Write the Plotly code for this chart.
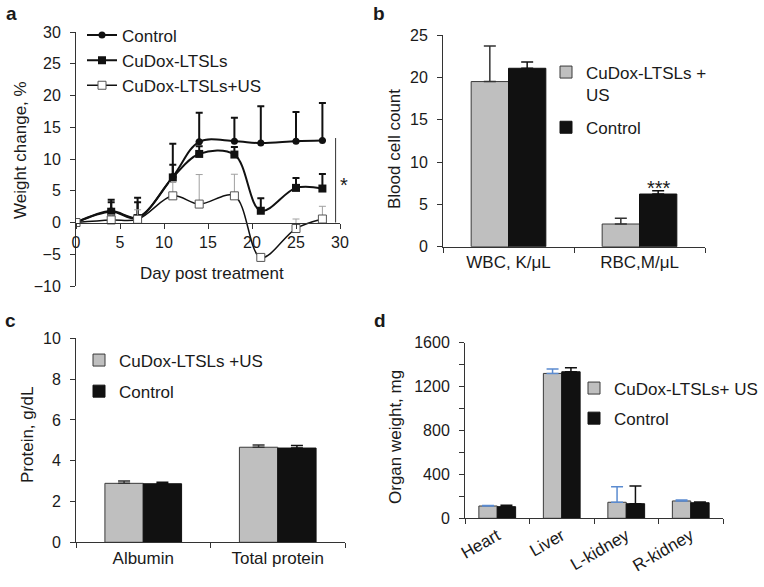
import plotly.graph_objects as go

W, H = 764, 587
FONT = "Liberation Sans, Arial, Helvetica, sans-serif"
TXT = "#1a1a1a"
GRAY = "#bfbfbf"
BLACK = "#111111"
AXC = "#333333"

# ---------------- Panel a: weight change ----------------
days = [0, 4, 7, 11, 14, 18, 21, 25, 28]
control_wt = [0, 1.8, 0.8, 7.2, 12.7, 12.8, 12.5, 12.8, 12.9]
control_err = [0, 1.8, 3.1, 5.2, 4.6, 3.7, 5.8, 4.6, 5.9]
ltsl_wt = [0, 1.7, 0.7, 7.1, 10.8, 10.7, 1.85, 5.45, 5.35]
ltsl_err = [0, 1.5, 2.5, 2.0, 1.2, 1.2, 1.95, 1.55, 2.3]
us_wt = [0, 0.4, 0.5, 4.2, 2.9, 4.2, -5.5, -0.95, 0.55]
us_err = [0, 0.8, 1.5, 2.1, 4.65, 3.4, 0, 1.5, 2.0]
sig_x = 29.5
sig_y = [0, 13.3]

# ---------------- Panel b: blood cells ----------------
blood_cats = ["WBC, K/μL", "RBC,M/μL"]
blood_us = [19.5, 2.68]
blood_us_err = [4.2, 0.67]
blood_ctrl = [21.07, 6.22]
blood_ctrl_err = [0.73, 0.38]

# ---------------- Panel c: protein ----------------
protein_cats = ["Albumin", "Total protein"]
protein_us = [2.89, 4.66]
protein_us_err = [0.11, 0.11]
protein_ctrl = [2.87, 4.62]
protein_ctrl_err = [0.07, 0.13]

# ---------------- Panel d: organ weight ----------------
organ_cats = ["Heart", "Liver", "L-kidney", "R-kidney"]
organ_us = [112, 1320, 146, 158]
organ_us_err = [4, 40, 142, 9]
organ_ctrl = [106, 1335, 133, 142]
organ_ctrl_err = [12, 37, 161, 7]


def px(x):
    return x / W


def py(y):
    return 1 - y / H


def plus_err(vals, color, thick=1.5, width=4):
    return dict(type="data", array=vals, arrayminus=[0] * len(vals),
                symmetric=False, color=color, thickness=thick, width=width)


fig = go.Figure()

# ---- panel a traces
fig.add_trace(go.Scatter(
    x=days, y=control_wt, name="Control", mode="lines+markers",
    line=dict(color=BLACK, width=2, shape="spline", smoothing=1),
    marker=dict(symbol="circle", size=7, color=BLACK),
    error_y=plus_err(control_err, BLACK, 2, 3.5),
    xaxis="x", yaxis="y", legend="legend"))
fig.add_trace(go.Scatter(
    x=days, y=ltsl_wt, name="CuDox-LTSLs", mode="lines+markers",
    line=dict(color=BLACK, width=2, shape="spline", smoothing=1),
    marker=dict(symbol="square", size=8, color=BLACK),
    error_y=plus_err(ltsl_err, BLACK, 2, 3.5),
    xaxis="x", yaxis="y", legend="legend"))
fig.add_trace(go.Scatter(
    x=days, y=us_wt, name="CuDox-LTSLs+US", mode="lines+markers",
    line=dict(color=BLACK, width=1.5, shape="spline", smoothing=1),
    marker=dict(symbol="square", size=8, color="white",
                line=dict(color="#555555", width=1)),
    error_y=plus_err(us_err, "#a0a0a0", 1, 3.5),
    xaxis="x", yaxis="y", legend="legend"))


def bar_pair(cats, us, us_err, ctrl, ctrl_err, xa, ya, leg, us_name, us_err_col):
    fig.add_trace(go.Bar(
        x=cats, y=us, name=us_name, marker=dict(color=GRAY, line=dict(color="#3a3a3a", width=1)),
        error_y=plus_err(us_err, us_err_col, 1.5, 6), xaxis=xa, yaxis=ya,
        legend=leg, legendgroup=leg + "us"))
    fig.add_trace(go.Bar(
        x=cats, y=ctrl, name="Control", marker=dict(color=BLACK, line=dict(color=BLACK, width=1)),
        error_y=plus_err(ctrl_err, BLACK, 1.5, 6), xaxis=xa, yaxis=ya,
        legend=leg, legendgroup=leg + "ctrl"))


bar_pair(blood_cats, blood_us, blood_us_err, blood_ctrl, blood_ctrl_err,
         "x2", "y2", "legend2", "CuDox-LTSLs +<br>US", "#333333")
bar_pair(protein_cats, protein_us, protein_us_err, protein_ctrl, protein_ctrl_err,
         "x3", "y3", "legend3", "CuDox-LTSLs +US", "#333333")
bar_pair(organ_cats, organ_us, organ_us_err, organ_ctrl, organ_ctrl_err,
         "x4", "y4", "legend4", "CuDox-LTSLs+ US", "#5b8bd0")

tickfont = dict(family=FONT, size=16, color=TXT)
catfont = dict(family=FONT, size=17, color=TXT)
common_y = dict(showline=True, linecolor=AXC, linewidth=1, ticks="outside",
                ticklen=5, tickcolor=AXC, showgrid=False, zeroline=False,
                tickfont=tickfont, ticklabelstandoff=6)
common_xcat = dict(showline=True, linecolor=AXC, linewidth=1, ticks="outside",
                   ticklen=5, tickcolor=AXC, showgrid=False, zeroline=False,
                   tickfont=catfont, tickson="boundaries", type="category")

ya_dom = [py(286), py(32)]
fig.update_layout(
    xaxis=dict(domain=[px(76), px(340)], range=[0, 30], dtick=5, showline=True,
               linecolor=AXC, linewidth=1, ticks="outside", ticklen=5, tickcolor=AXC,
               showgrid=False, zeroline=False, tickfont=tickfont,
               anchor="free", position=ya_dom[0] + 0.25 * (ya_dom[1] - ya_dom[0])),
    yaxis=dict(domain=ya_dom, range=[-10, 30], dtick=5, anchor="x", **common_y),
    xaxis2=dict(domain=[px(443), px(705)], range=[-0.5, 1.5], anchor="y2", **common_xcat),
    yaxis2=dict(domain=[py(246.7), py(35)], range=[0, 25], dtick=5, anchor="x2", **common_y),
    xaxis3=dict(domain=[px(76), px(345)], range=[-0.5, 1.5], anchor="y3", **common_xcat),
    yaxis3=dict(domain=[py(542.3), py(338.3)], range=[0, 10], dtick=2, anchor="x3", **common_y),
    xaxis4=dict(domain=[px(465), px(723)], range=[-0.5, 3.5], anchor="y4", tickangle=-30,
                **common_xcat),
    yaxis4=dict(domain=[py(518.3), py(342.7)], range=[0, 1600], dtick=400, anchor="x4",
                minor=dict(dtick=200, ticks="outside", ticklen=5, tickcolor=AXC), **common_y),
)

leg_common = dict(bgcolor="rgba(0,0,0,0)", borderwidth=0, xanchor="left", yanchor="top",
                  font=dict(family=FONT, size=17, color=TXT), itemwidth=30,
                  itemclick=False, itemdoubleclick=False)
fig.update_layout(
    legend=dict(x=px(82), y=py(17.5), tracegroupgap=0, **leg_common),
    legend2=dict(x=px(546), y=py(54.5), tracegroupgap=8, valign="top", **leg_common),
    legend3=dict(x=px(79), y=py(342.5), tracegroupgap=6, **leg_common),
    legend4=dict(x=px(574), y=py(370.5), tracegroupgap=5, **leg_common),
)

annotations = []


def ann(text, x, y, size=17, angle=0, bold=False, xanchor="center", yanchor="middle"):
    annotations.append(dict(text=("<b>%s</b>" % text) if bold else text,
                            x=px(x), y=py(y), xref="paper", yref="paper",
                            showarrow=False, textangle=angle, xanchor=xanchor,
                            yanchor=yanchor, font=dict(family=FONT, size=size, color=TXT)))


# panel letters
ann("a", 11, 13, 19, bold=True)
ann("b", 379, 13, 19, bold=True)
ann("c", 10, 320, 19, bold=True)
ann("d", 380, 320, 19, bold=True)
# axis titles
ann("Weight change, %", 20, 150, 17, angle=-90)
ann("Day post treatment", 212, 274, 17)
ann("Blood cell count", 395, 149, 17, angle=-90)
ann("Protein, g/dL", 27, 435, 17, angle=-90)
ann("Organ weight, mg", 395, 437, 17, angle=-90)
# significance marks
ann("*", 344, 185, 20)
ann("***", 659, 188, 20)

fig.update_layout(annotations=annotations)
fig.add_shape(type="line", xref="x", yref="y", x0=sig_x, x1=sig_x, y0=sig_y[0], y1=sig_y[1],
              line=dict(color=AXC, width=1))

fig.update_layout(
    width=W, height=H, margin=dict(l=0, r=0, t=0, b=0, autoexpand=False),
    paper_bgcolor="white", plot_bgcolor="white",
    barmode="group", bargap=0.43, bargroupgap=0,
    font=dict(family=FONT, color=TXT),
    showlegend=True,
)

fig.write_html(
    "out.html",
    config={"displayModeBar": False},
    post_script="document.body.style.margin='0';document.body.style.overflow='hidden';",
)
